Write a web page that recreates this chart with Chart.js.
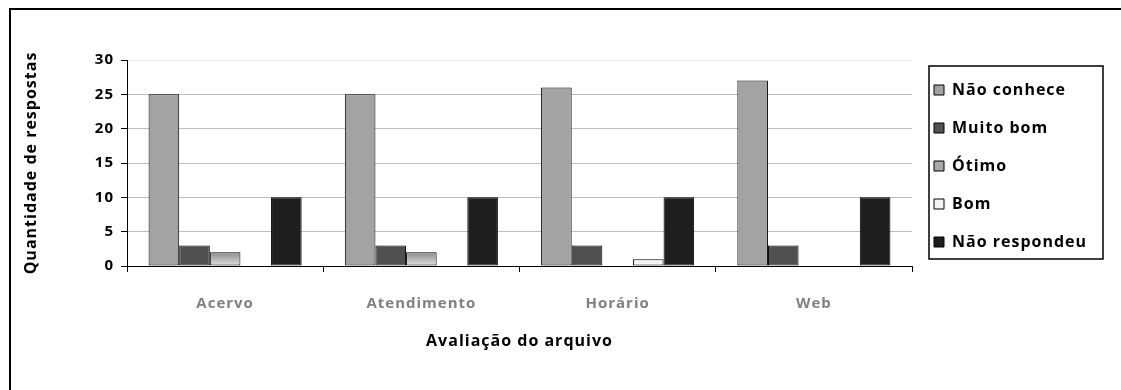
<!DOCTYPE html>
<html>
<head>
<meta charset="utf-8">
<script src="https://cdn.jsdelivr.net/npm/chart.js@4"></script>
<style>
  body { margin: 0; background: #fff; overflow: hidden; }
  canvas { position: absolute; left: 0; top: 0; }
</style>
</head>
<body>
<canvas id="chart" width="1121" height="390"></canvas>
<script>
const categories = ["Acervo", "Atendimento", "Horário", "Web"];
const naoConhece = [25, 25, 26, 27];
const muitoBom = [3, 3, 3, 3];
const otimo = [2, 2, 0, 0];
const bom = [0, 0, 1, 0];
const naoRespondeu = [10, 10, 10, 10];
const yTicks = [0, 5, 10, 15, 20, 25, 30];

Chart.defaults.font.family = "'Open Sans', sans-serif";
Chart.defaults.font.size = 16;
Chart.defaults.font.weight = "bold";
Chart.defaults.color = "#000";

// gradient fill for the "Ótimo" bars, from bar top to the zero line
function otimoFill(ctx) {
  const chart = ctx.chart;
  const y = chart.scales.y;
  if (ctx.type !== "data" || !y || !ctx.raw) return "#b0b0b0";
  const top = y.getPixelForValue(ctx.raw);
  const bottom = y.getPixelForValue(0);
  if (!isFinite(top) || !isFinite(bottom)) return "#b0b0b0";
  const g = chart.ctx.createLinearGradient(0, top, 0, bottom);
  g.addColorStop(0, "#8a8a8a");
  g.addColorStop(1, "#e2e2e2");
  return g;
}

// page frame (top and left edge only) and slightly spaced text
const pageFrame = {
  id: "pageFrame",
  beforeLayout(chart) { chart.ctx.letterSpacing = "1px"; },
  beforeDraw(chart) {
    const c = chart.ctx;
    c.save();
    c.fillStyle = "#000";
    c.fillRect(9, 8, chart.width - 9, 2);
    c.fillRect(9, 8, 2, chart.height - 8);
    c.restore();
    c.letterSpacing = "1px";
  },
};

// fixed legend width + black frame round the legend items
const legendFrame = {
  id: "legendFrame",
  beforeLayout(chart) {
    const legend = chart.legend;
    if (legend && !legend._fixedWidth) {
      const fit = legend.fit;
      legend.fit = function () {
        fit.call(this);
        this.width = 209;
      };
      legend._fixedWidth = true;
    }
  },
  afterDraw(chart) {
    const boxes = chart.legend.legendHitBoxes;
    if (!boxes.length) return;
    const first = boxes[0];
    const last = boxes[boxes.length - 1];
    const top = first.top - 16;
    const c = chart.ctx;
    c.save();
    c.strokeStyle = "#000";
    c.lineWidth = 1.5;
    c.strokeRect(first.left - 5, top, 174, last.top + last.height + 9 - top);
    c.restore();
  },
};

const barBorder = { borderColor: "#000", borderWidth: 1, borderSkipped: false };

new Chart(document.getElementById("chart"), {
  type: "bar",
  data: {
    labels: categories,
    datasets: [
      { label: "Não conhece", data: naoConhece, backgroundColor: "#a3a3a3", ...barBorder },
      { label: "Muito bom", data: muitoBom, backgroundColor: "#505050", ...barBorder },
      { label: "Ótimo", data: otimo, backgroundColor: otimoFill, ...barBorder },
      { label: "Bom", data: bom, backgroundColor: "#f4f4f4", ...barBorder },
      { label: "Não respondeu", data: naoRespondeu, backgroundColor: "#1e1e1e", ...barBorder },
    ],
  },
  options: {
    responsive: false,
    animation: false,
    layout: { padding: { top: 60, right: 0, bottom: 0, left: 0 } },
    datasets: { bar: { categoryPercentage: 0.78, barPercentage: 1 } },
    plugins: {
      tooltip: { enabled: false },
      legend: {
        position: "right",
        align: "start",
        labels: {
          boxWidth: 10,
          boxHeight: 10,
          padding: 22,
          color: "#000",
          font: { size: 16, weight: "bold" },
          generateLabels(chart) {
            const items = Chart.defaults.plugins.legend.labels.generateLabels(chart);
            items.forEach((it) => {
              if (it.text === "Ótimo") it.fillStyle = "#a8a8a8";
              it.lineWidth = 1;
              it.strokeStyle = "#000";
            });
            return items;
          },
        },
      },
    },
    scales: {
      x: {
        grid: { offset: true, drawOnChartArea: false, drawTicks: true, tickLength: 6, tickColor: "#000" },
        border: { color: "#000", width: 1 },
        ticks: { color: "#808080", padding: 23, font: { size: 15 } },
        title: { display: true, text: "Avaliação do arquivo", color: "#000", padding: { top: 0, bottom: 39 } },
        afterFit(scale) { scale.height = 124; },
      },
      y: {
        min: yTicks[0],
        max: yTicks[yTicks.length - 1],
        ticks: { stepSize: yTicks[1] - yTicks[0], color: "#000", padding: 7, font: { size: 15 } },
        grid: {
          color: (ctx) => (ctx.tick && ctx.tick.value === yTicks[yTicks.length - 1] ? "#ececec" : "#bfbfbf"),
          tickColor: "#000",
          tickLength: 6,
        },
        border: { color: "#000", width: 1 },
        title: { display: true, text: "Quantidade de respostas", color: "#000", padding: { top: 22, bottom: 0 } },
        afterFit(scale) { scale.width = 127; },
      },
    },
  },
  plugins: [pageFrame, legendFrame],
});
</script>
</body>
</html>
